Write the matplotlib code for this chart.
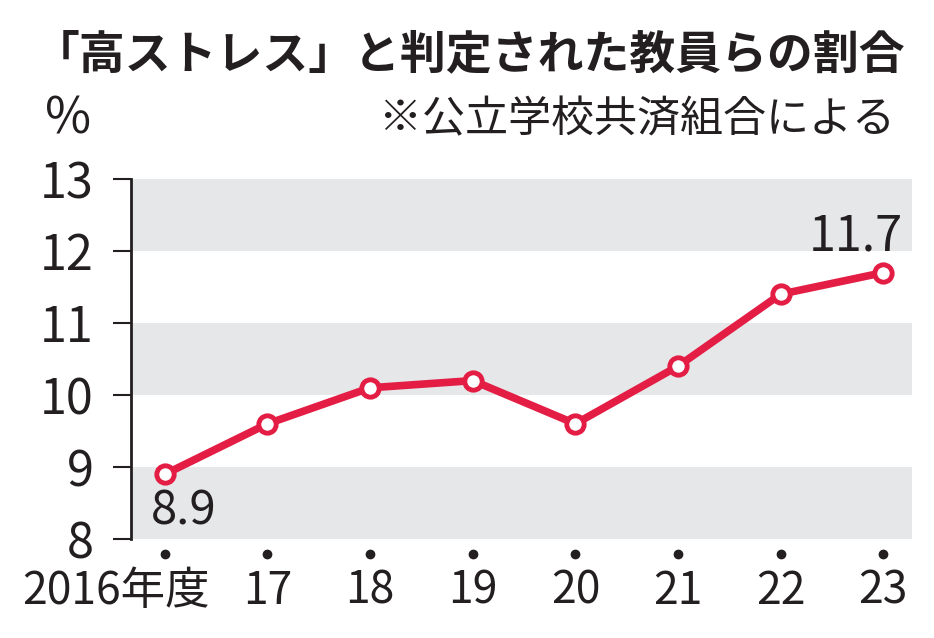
import matplotlib
matplotlib.use("Agg")
import matplotlib.pyplot as plt

plt.rcParams['font.family'] = ['Noto Sans CJK JP', 'DejaVu Sans']

years = ['2016年度', '17', '18', '19', '20', '21', '22', '23']
rate = [8.9, 9.6, 10.1, 10.2, 9.6, 10.4, 11.4, 11.7]
yticks = [8, 9, 10, 11, 12, 13]
bands = [(8, 9), (10, 11), (12, 13)]

red = '#e41d45'
band_col = '#e6e7e8'
ink = '#231f20'

fig = plt.figure(figsize=(9.34, 6.38), dpi=100)
ax = fig.add_axes([131/934, 99/638, 781/934, 360/638])

xs = list(range(len(rate)))
for lo, hi in bands:
    ax.axhspan(lo, hi, color=band_col, lw=0, zorder=0)

ax.plot(xs, rate, color=red, lw=5.5, zorder=3, solid_capstyle='round')
ax.plot(xs, rate, 'o', ms=12.5, mfc='white', mec=red, mew=3.5, zorder=4)

ax.set_xlim(-0.33, 7.28)
ax.set_ylim(8, 13)
ax.set_yticks(yticks)
ax.set_yticklabels([str(v) for v in yticks], fontsize=35, color=ink)
ax.tick_params(axis='y', length=13, width=1.5, color=ink, pad=14)
ax.set_xticks([])

for s in ['top', 'right', 'bottom']:
    ax.spines[s].set_visible(False)
ax.spines['left'].set_linewidth(2)
ax.spines['left'].set_color(ink)

# dots under each year
ax.plot(xs, [7.79] * len(xs), 'o', ms=6, color=ink, clip_on=False)

for i, lab in enumerate(years):
    if i == 0:
        ax.text(0.44, 7.28, lab, ha='right', va='center', fontsize=32, color=ink, clip_on=False)
    else:
        ax.text(i, 7.28, lab, ha='center', va='center', fontsize=32, color=ink, clip_on=False)

ax.text(0.18, 8.38, '8.9', ha='center', va='center', fontsize=34, color=ink)
ax.text(7.19, 12.2, '11.7', ha='right', va='center', fontsize=35, color=ink)

fig.text(470/934, 1 - 55/638, '「高ストレス」と判定された教員らの割合', ha='center', va='center',
         fontsize=33, fontweight='bold', color=ink)
fig.text(895/934, 1 - 120/638, '※公立学校共済組合による', ha='right', va='center',
         fontsize=31, color=ink)
fig.text(68/934, 1 - 120/638, '%', ha='center', va='center', fontsize=36, color=ink)

fig.savefig('out.png', dpi=100)
